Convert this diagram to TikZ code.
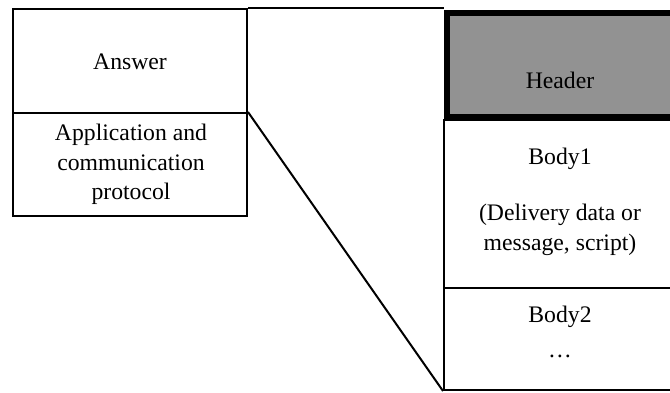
\documentclass[tikz,border=0pt]{standalone}
\usepackage{fontspec}
\setmainfont{Liberation Serif}
\definecolor{headergray}{RGB}{146,146,146}
\begin{document}
\begin{tikzpicture}[x=0.5pt,y=-0.5pt,
  every node/.style={font=\fontsize{11.85pt}{14.75pt}\selectfont},
  box/.style={draw=black, line width=1pt, rectangle, inner sep=0pt, fill=white},
  thickbox/.style={draw=black, line width=3.25pt, rectangle, inner sep=0pt, fill=headergray},
  txt/.style={anchor=base, inner sep=0pt},
  conn/.style={draw=black, line width=1pt}]
\useasboundingbox (0,0) rectangle (670,392);
% boxes
\node[box, minimum width=117pt, minimum height=52pt] (answer) at (130,61) {};
\node[box, minimum width=117pt, minimum height=51.5pt] (app) at (130,164.5) {};
\node[box, minimum width=116pt, minimum height=84pt] (body1) at (560,204) {};
\node[box, minimum width=116pt, minimum height=51pt] (body2) at (560,339) {};
\node[thickbox, minimum width=113pt, minimum height=52pt] (header) at (560,65) {};
% texts
\node[txt] (answertext) at (130,69) {Answer};
\node[txt] (app1) at (131,140) {Application and};
\node[txt] (app2) at (131,170) {communication};
\node[txt] (app3) at (131,199) {protocol};
\node[txt] (headertext) at (560,88) {Header};
\node[txt] (body1a) at (560,164) {Body1};
\node[txt] (body1b) at (560,220) {(Delivery data or};
\node[txt] (body1c) at (560,250) {message, script)};
\node[txt] (body2a) at (560,322) {Body2};
\node[txt] (body2b) at (560,357) {\dots};
% connectors
\draw[conn] (answer.north east) -- (answer.north east -| header.west);
\draw[conn] (app.north east) -- (body2.south west);
\end{tikzpicture}
\end{document}
